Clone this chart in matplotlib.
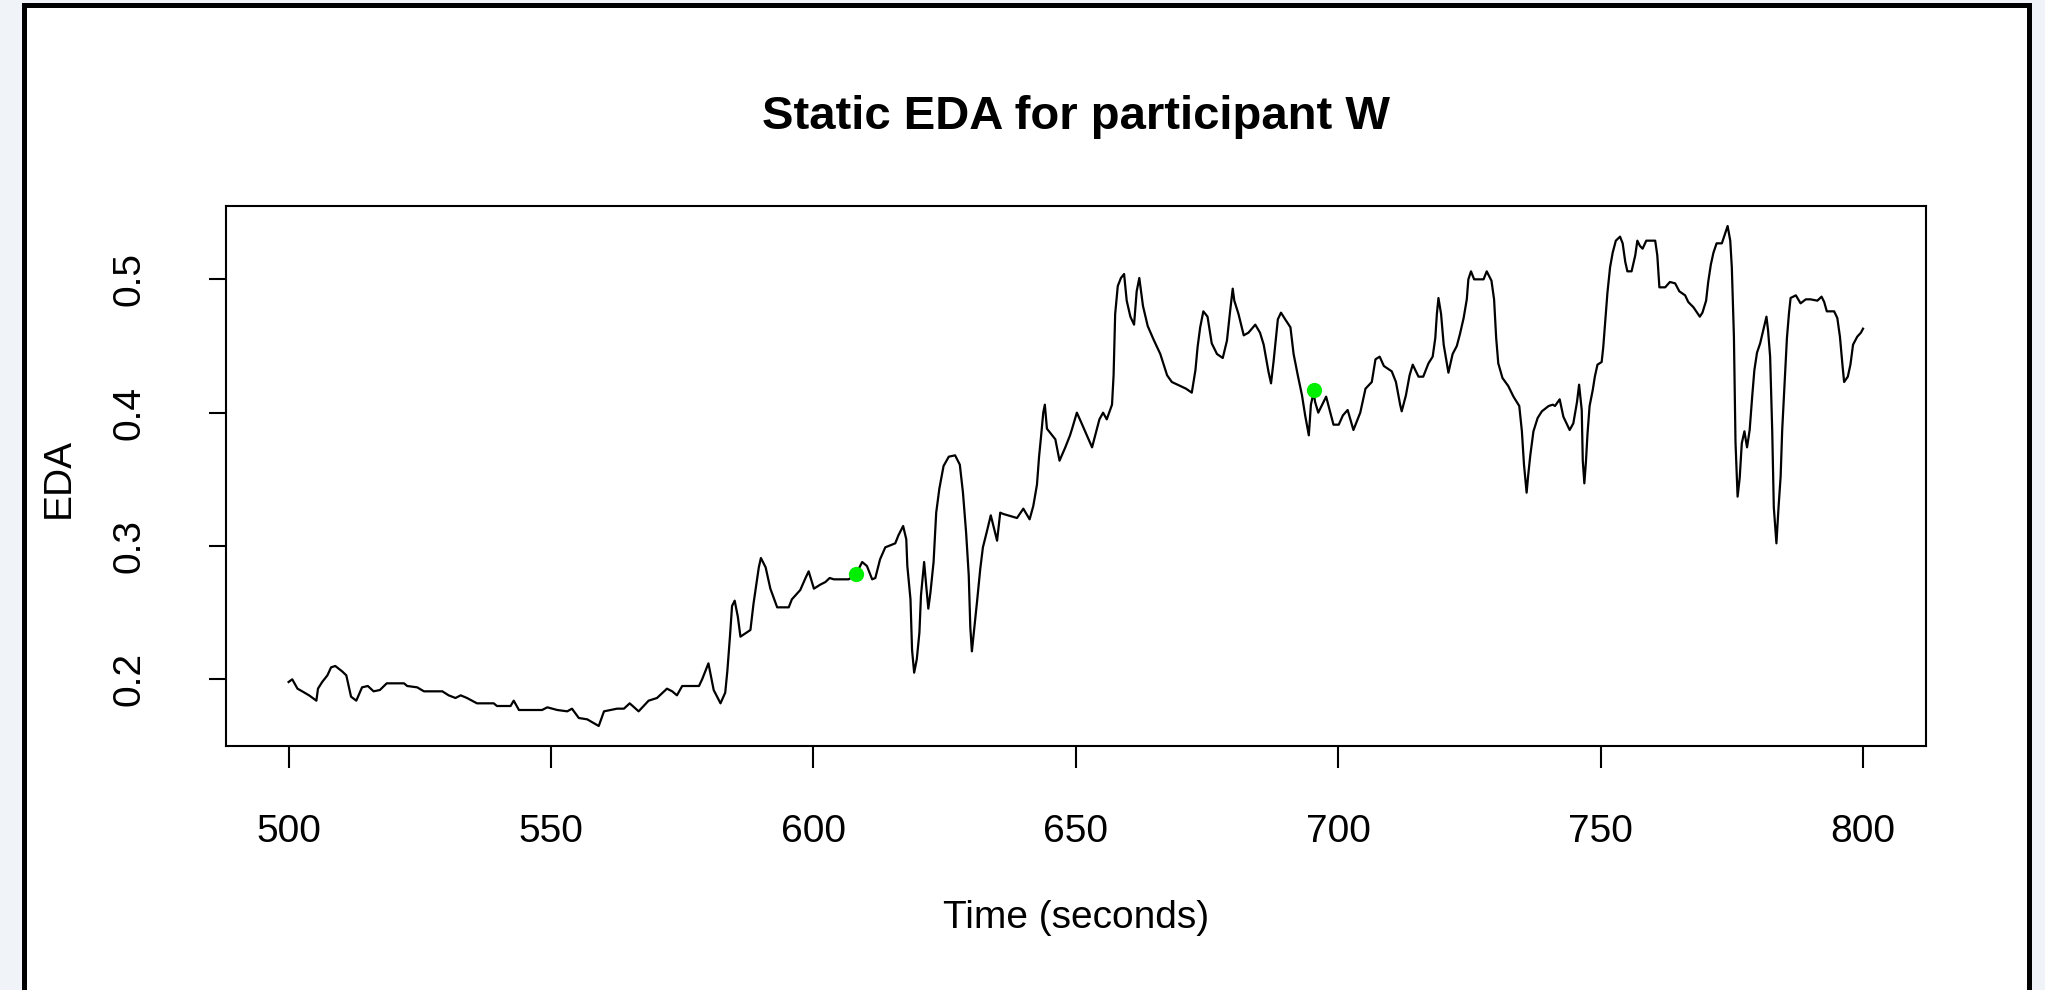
import matplotlib
matplotlib.use("Agg")
import matplotlib.pyplot as plt
from matplotlib.patches import Rectangle

plt.rcParams['font.family'] = ['Liberation Sans', 'DejaVu Sans']

# EDA trace (time in seconds, EDA value)
time_s = [
    500.0, 500.7, 501.7, 502.6, 503.9, 505.3, 505.6, 506.4, 507.4, 508.1,
    508.9, 510.2, 511.0, 511.9, 512.9, 514.0, 515.1, 516.2, 517.4, 518.7,
    522.0, 522.6, 524.5, 525.8, 529.3, 530.5, 531.8, 532.8, 534.0, 535.9,
    539.1, 539.7, 542.3, 542.9, 543.9, 548.3, 549.3, 551.2, 553.1, 554.0,
    555.3, 556.9, 558.2, 559.1, 560.1, 562.6, 563.9, 565.0, 566.7, 568.6,
    570.2, 572.1, 573.1, 574.0, 575.0, 578.2, 578.8, 580.0, 581.0, 582.3,
    583.2, 583.6, 584.1, 584.5, 585.0, 585.6, 586.1, 588.0, 588.6, 589.6,
    590.0, 590.9, 591.8, 593.1, 595.3, 595.9, 597.5, 598.5, 599.1, 600.1,
    601.3, 602.3, 603.1, 603.9, 606.7, 608.0, 609.3, 610.2, 611.2, 611.8,
    612.7, 613.7, 615.6, 616.2, 617.1, 617.7, 617.9, 618.5, 618.8, 619.2,
    619.7, 620.2, 620.5, 621.1, 621.5, 621.9, 622.3, 622.9, 623.4, 624.0,
    624.8, 625.8, 627.0, 627.9, 628.5, 629.1, 629.6, 629.9, 630.2, 630.7,
    631.2, 631.8, 632.3, 633.0, 633.8, 634.3, 635.0, 635.6, 636.2, 638.8,
    640.0, 641.2, 641.9, 642.6, 643.0, 643.4, 643.8, 644.1, 644.5, 645.5,
    646.1, 646.9, 648.0, 648.9, 649.3, 650.2, 651.0, 652.1, 653.1, 653.7,
    654.5, 655.2, 655.9, 656.9, 657.2, 657.5, 658.0, 658.6, 659.2, 659.7,
    660.4, 661.1, 661.6, 662.1, 662.8, 663.7, 664.8, 666.1, 667.4, 668.3,
    669.9, 671.0, 672.1, 672.8, 673.2, 673.7, 674.3, 675.1, 675.9, 676.9,
    678.0, 678.8, 679.4, 679.9, 680.2, 681.0, 682.0, 682.9, 684.2, 685.1,
    685.8, 686.7, 687.2, 687.7, 688.5, 689.1, 689.9, 690.9, 691.5, 692.3,
    693.1, 693.7, 694.4, 694.8, 695.3, 695.6, 696.2, 697.7, 699.1, 700.1,
    700.9, 701.8, 702.9, 704.2, 705.2, 706.4, 707.1, 707.9, 708.7, 710.2,
    711.0, 711.8, 712.1, 712.9, 713.6, 714.2, 715.3, 716.2, 717.2, 718.0,
    718.5, 718.8, 719.1, 719.6, 720.1, 721.0, 721.8, 722.6, 723.2, 723.9,
    724.5, 724.8, 725.3, 725.9, 727.7, 728.3, 729.2, 729.7, 730.1, 730.5,
    731.3, 732.4, 733.4, 734.5, 735.0, 735.4, 735.9, 736.2, 736.6, 737.2,
    738.0, 738.8, 740.1, 740.9, 741.3, 742.2, 742.9, 744.1, 744.8, 745.5,
    745.9, 746.4, 746.6, 746.9, 747.2, 747.5, 747.9, 748.5, 748.9, 749.4,
    750.2, 750.5, 750.9, 751.3, 751.8, 752.3, 752.9, 753.7, 754.2, 754.7,
    755.1, 755.9, 756.6, 757.0, 757.5, 758.0, 758.7, 760.4, 760.8, 761.2,
    762.3, 763.2, 764.2, 765.0, 766.1, 766.7, 767.7, 768.9, 769.4, 770.1,
    770.5, 771.0, 771.5, 772.1, 773.1, 773.7, 774.2, 774.7, 775.0, 775.4,
    775.7, 776.1, 776.5, 776.9, 777.4, 777.9, 778.4, 778.9, 779.3, 779.8,
    780.4, 781.0, 781.6, 781.9, 782.3, 782.7, 783.0, 783.5, 783.9, 784.3,
    784.6, 785.1, 785.5, 785.9, 786.2, 787.2, 788.1, 789.1, 790.0, 791.3,
    792.1, 792.6, 793.1, 794.5, 795.1, 795.6, 796.1, 796.4, 797.1, 797.6,
    798.1, 798.9, 799.6, 800.0,
]
eda = [
    0.198, 0.200, 0.193, 0.191, 0.188, 0.184, 0.193, 0.198, 0.203, 0.209,
    0.210, 0.206, 0.203, 0.187, 0.184, 0.194, 0.195, 0.191, 0.192, 0.197,
    0.197, 0.195, 0.194, 0.191, 0.191, 0.188, 0.186, 0.188, 0.186, 0.182,
    0.182, 0.180, 0.180, 0.184, 0.177, 0.177, 0.179, 0.177, 0.176, 0.178,
    0.171, 0.170, 0.167, 0.165, 0.176, 0.178, 0.178, 0.182, 0.176, 0.184,
    0.186, 0.193, 0.191, 0.188, 0.195, 0.195, 0.200, 0.212, 0.192, 0.182,
    0.190, 0.206, 0.232, 0.255, 0.259, 0.247, 0.232, 0.237, 0.257, 0.284,
    0.291, 0.284, 0.268, 0.254, 0.254, 0.260, 0.267, 0.276, 0.281, 0.268,
    0.271, 0.273, 0.276, 0.275, 0.275, 0.278, 0.288, 0.285, 0.275, 0.276,
    0.290, 0.299, 0.302, 0.308, 0.315, 0.305, 0.285, 0.260, 0.222, 0.205,
    0.215, 0.235, 0.263, 0.288, 0.270, 0.253, 0.265, 0.288, 0.325, 0.343,
    0.360, 0.367, 0.368, 0.361, 0.340, 0.310, 0.278, 0.239, 0.221, 0.240,
    0.259, 0.283, 0.299, 0.310, 0.323, 0.315, 0.304, 0.325, 0.324, 0.321,
    0.328, 0.320, 0.330, 0.346, 0.367, 0.383, 0.400, 0.406, 0.388, 0.383,
    0.380, 0.364, 0.374, 0.383, 0.388, 0.400, 0.393, 0.383, 0.374, 0.383,
    0.395, 0.400, 0.395, 0.406, 0.428, 0.474, 0.495, 0.501, 0.504, 0.484,
    0.472, 0.466, 0.491, 0.501, 0.480, 0.465, 0.455, 0.444, 0.428, 0.423,
    0.420, 0.418, 0.415, 0.432, 0.449, 0.464, 0.476, 0.472, 0.452, 0.444,
    0.441, 0.454, 0.476, 0.493, 0.484, 0.474, 0.458, 0.460, 0.466, 0.460,
    0.451, 0.431, 0.422, 0.439, 0.470, 0.475, 0.470, 0.464, 0.444, 0.428,
    0.413, 0.398, 0.383, 0.406, 0.415, 0.408, 0.400, 0.412, 0.391, 0.391,
    0.398, 0.402, 0.387, 0.400, 0.418, 0.423, 0.440, 0.442, 0.435, 0.431,
    0.423, 0.406, 0.401, 0.413, 0.428, 0.436, 0.427, 0.427, 0.437, 0.442,
    0.456, 0.474, 0.486, 0.474, 0.451, 0.430, 0.444, 0.450, 0.459, 0.471,
    0.485, 0.500, 0.506, 0.500, 0.500, 0.506, 0.499, 0.485, 0.456, 0.437,
    0.426, 0.420, 0.412, 0.405, 0.386, 0.361, 0.340, 0.353, 0.368, 0.386,
    0.396, 0.401, 0.405, 0.406, 0.405, 0.410, 0.397, 0.387, 0.392, 0.408,
    0.421, 0.402, 0.364, 0.347, 0.363, 0.384, 0.405, 0.417, 0.427, 0.436,
    0.438, 0.449, 0.469, 0.490, 0.509, 0.520, 0.529, 0.532, 0.527, 0.513,
    0.506, 0.506, 0.518, 0.529, 0.525, 0.523, 0.529, 0.529, 0.518, 0.494,
    0.494, 0.498, 0.497, 0.491, 0.488, 0.483, 0.479, 0.472, 0.475, 0.484,
    0.498, 0.511, 0.520, 0.527, 0.527, 0.534, 0.540, 0.529, 0.509, 0.457,
    0.378, 0.337, 0.351, 0.377, 0.386, 0.374, 0.387, 0.413, 0.432, 0.445,
    0.452, 0.462, 0.472, 0.462, 0.442, 0.386, 0.329, 0.302, 0.329, 0.352,
    0.387, 0.426, 0.456, 0.475, 0.486, 0.488, 0.482, 0.485, 0.485, 0.484,
    0.487, 0.483, 0.476, 0.476, 0.471, 0.457, 0.435, 0.423, 0.427, 0.436,
    0.451, 0.457, 0.460, 0.463,
]

# highlighted points (green)
mark_time = [608.2, 695.3]
mark_eda = [0.279, 0.417]

x_ticks = [500, 550, 600, 650, 700, 750, 800]
y_ticks = [0.2, 0.3, 0.4, 0.5]

fig = plt.figure(figsize=(20.45, 9.9), dpi=100, facecolor='#f0f4f9')

# white panel with a thick black frame, like the screenshot
fig.patches.append(Rectangle((24 / 2045, -0.05), (2029 - 24) / 2045, 0.995 + 0.05,
                             transform=fig.transFigure, facecolor='white',
                             edgecolor='black', linewidth=3.6, zorder=-5))

ax = fig.add_axes([225.6 / 2045, 244 / 990, (1926 - 225.6) / 2045, 540 / 990])
ax.set_zorder(2)
ax.set_facecolor('white')
ax.plot(time_s, eda, color='black', linewidth=1.6)
ax.plot(mark_time, mark_eda, 'o', color='#00ee00', markersize=11, markeredgewidth=0)

ax.set_xlim(488, 812)
ax.set_ylim(0.15, 0.555)
ax.set_xticks(x_ticks)
ax.set_xticklabels([str(t) for t in x_ticks])
ax.set_yticks(y_ticks)
ax.set_yticklabels([str(v) for v in y_ticks], rotation=90, va='center')

for s in ax.spines.values():
    s.set_linewidth(1.5)
ax.tick_params(axis='x', length=16, width=1.5, labelsize=28, pad=33)
ax.tick_params(axis='y', length=12, width=1.5, labelsize=28, pad=44)

fig.text(1076 / 2045, 1 - 117 / 990, 'Static EDA for participant W', ha='center', va='center',
         fontsize=34, fontweight='bold')
fig.text(1076 / 2045, 1 - 918 / 990, 'Time (seconds)', ha='center', va='center', fontsize=28)
fig.text(59 / 2045, 1 - 478 / 990, 'EDA', ha='center', va='center', fontsize=28, rotation=90)

fig.savefig('out.png', dpi=100, facecolor=fig.get_facecolor())
